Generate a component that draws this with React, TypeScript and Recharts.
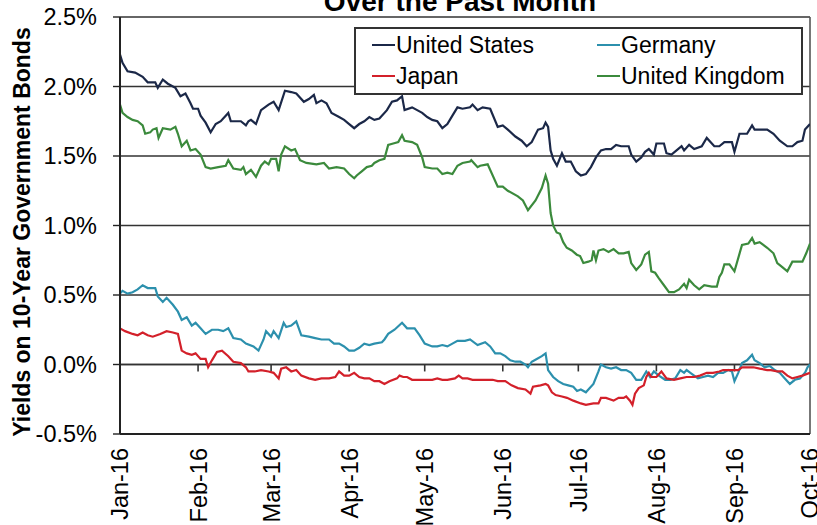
import React from 'react';
import { LineChart, Line, XAxis, YAxis, CartesianGrid, ReferenceLine } from 'recharts';

// day index from 1-Jan-2016, yield in %
const US: [number, number][] = [
  [0,2.23],[1,2.17],[3,2.11],[6,2.10],[9,2.07],[11,2.03],[14,2.03],[15,1.99],[17,2.05],[19,2.02],[22,1.99],[24,1.93],[26,1.95],[28,1.88],[29,1.84],[31,1.84],[32,1.79],[34,1.74],[36,1.67],[38,1.73],[40,1.75],[43,1.81],[44,1.75],[48,1.75],[50,1.72],[51,1.75],[52,1.76],[54,1.73],[56,1.83],[59,1.87],[61,1.89],[63,1.83],[65.5,1.97],[68,1.96],[70,1.95],[73,1.89],[75,1.91],[77,1.94],[78,1.88],[80,1.90],[82,1.88],[84,1.81],[87,1.78],[89,1.76],[91,1.73],[93,1.70],[95,1.73],[97,1.75],[99,1.78],[101,1.76],[103,1.77],[106,1.83],[108,1.89],[110,1.90],[112,1.93],[113,1.83],[116,1.85],[118,1.83],[120,1.81],[122,1.78],[124,1.76],[126,1.75],[128,1.70],[130,1.73],[132,1.79],[134,1.85],[136,1.84],[139,1.85],[140,1.87],[142,1.83],[144,1.85],[147,1.84],[150,1.71],[152,1.72],[154,1.69],[157,1.64],[159.5,1.61],[161.5,1.57],[163.5,1.60],[166,1.69],[168,1.70],[169,1.74],[170,1.71],[171,1.54],[172,1.48],[173.5,1.43],[175.5,1.52],[177,1.46],[179,1.46],[181,1.39],[183,1.36],[185,1.37],[187,1.42],[189,1.49],[191,1.54],[193,1.55],[195,1.55],[197,1.58],[199,1.57],[202,1.57],[203,1.51],[205,1.46],[207,1.49],[208.5,1.53],[210,1.55],[212,1.51],[213,1.59],[216,1.59],[217,1.52],[219,1.51],[221,1.54],[223,1.57],[224,1.54],[226,1.58],[228,1.55],[231,1.57],[233,1.63],[236,1.57],[238,1.57],[240,1.60],[243,1.60],[244,1.53],[246,1.66],[249,1.66],[251,1.72],[252,1.69],[257,1.69],[259.5,1.66],[262,1.61],[265,1.57],[267,1.57],[269,1.60],[271,1.61],[272,1.69],[274,1.73],
];

const UK: [number, number][] = [
  [0,1.87],[1,1.81],[3,1.78],[5,1.76],[7,1.75],[9,1.72],[10,1.66],[12,1.67],[13,1.69],[14.5,1.70],[15.3,1.63],[17,1.70],[20,1.69],[22,1.71],[23,1.66],[24.5,1.57],[26.5,1.61],[28,1.54],[30,1.55],[32,1.51],[34,1.42],[36,1.41],[39,1.42],[42,1.43],[43,1.47],[45,1.41],[48,1.40],[49,1.42],[50,1.37],[52,1.40],[54,1.35],[56,1.43],[57.5,1.46],[59,1.44],[60,1.48],[62,1.48],[63,1.39],[64,1.51],[65.5,1.57],[68,1.54],[69.5,1.55],[71.5,1.47],[74,1.45],[78,1.44],[81,1.45],[83,1.41],[86,1.42],[89,1.41],[91,1.37],[93,1.34],[94,1.36],[96,1.39],[98,1.42],[100,1.43],[101,1.45],[103,1.47],[105,1.48],[106.5,1.58],[108.5,1.59],[110.5,1.60],[112,1.65],[113,1.61],[116,1.60],[118,1.58],[120,1.49],[121,1.42],[124,1.41],[126,1.41],[128,1.37],[130,1.38],[132,1.37],[134,1.43],[136,1.45],[139,1.46],[139.5,1.47],[142,1.42],[143,1.43],[146,1.44],[150,1.28],[152,1.28],[154,1.25],[158,1.21],[160,1.18],[162,1.11],[165,1.18],[167.5,1.27],[169,1.36],[170,1.30],[171,1.09],[172,1.00],[173.4,0.95],[174.7,0.94],[176,0.88],[177.4,0.84],[179.4,0.82],[181.4,0.79],[182.7,0.78],[184,0.73],[186,0.74],[187.3,0.75],[188,0.82],[189,0.75],[190,0.82],[192,0.83],[194,0.81],[196,0.83],[198,0.80],[200,0.80],[202,0.81],[203,0.73],[205,0.68],[207,0.72],[208.5,0.79],[210,0.81],[211,0.67],[212.5,0.66],[214,0.62],[216,0.57],[218,0.52],[220,0.52],[222,0.54],[224,0.58],[225,0.55],[226,0.61],[228,0.57],[230,0.54],[232,0.57],[235,0.56],[237,0.56],[238,0.63],[239,0.66],[240,0.72],[242,0.72],[244,0.67],[247,0.86],[249.5,0.87],[251,0.91],[252,0.87],[254,0.88],[257,0.84],[259.5,0.80],[261,0.73],[263,0.70],[265,0.67],[267,0.74],[269,0.74],[271,0.74],[272.5,0.80],[274,0.87],
];

const GERMANY: [number, number][] = [
  [0,0.51],[1,0.53],[3,0.51],[5,0.52],[7,0.54],[9,0.57],[11,0.55],[14,0.55],[15,0.49],[17,0.45],[18.5,0.48],[21,0.43],[23,0.38],[24.5,0.32],[26.5,0.34],[28.5,0.28],[30,0.30],[32,0.26],[34,0.22],[36.5,0.25],[39,0.25],[41,0.24],[43,0.26],[45,0.19],[48,0.18],[50,0.15],[53,0.13],[55,0.10],[57,0.18],[58,0.24],[60,0.20],[61,0.24],[63,0.19],[65,0.30],[66,0.27],[68,0.28],[70,0.31],[72,0.21],[75,0.20],[77.5,0.19],[80,0.18],[83,0.18],[85,0.15],[87,0.15],[89,0.13],[91,0.10],[93,0.10],[95,0.12],[97,0.15],[99,0.14],[101,0.15],[104,0.16],[105,0.18],[106.5,0.22],[109,0.25],[112,0.30],[114,0.26],[117,0.26],[119,0.21],[121,0.15],[124,0.13],[126,0.13],[128,0.14],[130,0.13],[132,0.15],[134,0.17],[137,0.17],[139,0.18],[142,0.14],[145,0.16],[147,0.13],[149,0.08],[151,0.08],[153,0.06],[155,0.03],[157,0.02],[159,0.02],[161,0.00],[162,-0.02],[163.5,0.02],[165.5,0.04],[167.5,0.06],[169,0.08],[170,-0.04],[172,-0.09],[174,-0.12],[176,-0.14],[178,-0.15],[180,-0.16],[181.5,-0.19],[183,-0.18],[185,-0.20],[186,-0.18],[188,-0.14],[190,-0.05],[191,0.00],[193,-0.02],[195,-0.03],[197,-0.02],[199,-0.04],[201,-0.04],[203,-0.06],[205,-0.11],[207,-0.11],[209,-0.05],[210.5,-0.09],[212,-0.05],[214,-0.08],[216.5,-0.11],[218.5,-0.11],[220.5,-0.10],[222.5,-0.04],[224,-0.06],[225,-0.04],[226.5,-0.06],[228,-0.08],[229.5,-0.10],[231.5,-0.09],[233.5,-0.08],[235.5,-0.09],[237.5,-0.06],[239.5,-0.06],[241.5,-0.04],[243,-0.05],[244,-0.12],[245.5,-0.06],[247,0.01],[249,0.03],[251,0.07],[252,0.03],[254,0.01],[256,-0.02],[258,-0.01],[260,-0.04],[262,-0.06],[264,-0.10],[266,-0.14],[268,-0.11],[270,-0.10],[272,-0.06],[273,-0.02],[274,0.00],
];

const JAPAN: [number, number][] = [
  [0,0.26],[2,0.24],[5,0.22],[7,0.21],[9,0.23],[11,0.21],[13,0.20],[16,0.22],[18.5,0.24],[21,0.23],[23,0.22],[24.5,0.10],[26.5,0.08],[28.5,0.07],[30,0.08],[32,0.04],[34,0.04],[35,-0.02],[36.5,0.03],[38.5,0.09],[40.5,0.10],[43,0.06],[45,0.02],[48,0.01],[50,-0.02],[51,-0.05],[53.5,-0.05],[56,-0.04],[59,-0.05],[61,-0.06],[63,-0.10],[64,-0.03],[66,-0.02],[68,-0.05],[70,-0.04],[72,-0.08],[75,-0.10],[77.5,-0.11],[80,-0.10],[83,-0.10],[85.5,-0.09],[87,-0.05],[89,-0.08],[91,-0.08],[93,-0.06],[95,-0.09],[97,-0.10],[99,-0.10],[101,-0.12],[103,-0.12],[105,-0.14],[107,-0.12],[110,-0.10],[111,-0.08],[112.5,-0.09],[114,-0.09],[116,-0.11],[118.5,-0.11],[121,-0.11],[124,-0.11],[126,-0.10],[128,-0.11],[130,-0.11],[133,-0.10],[134.5,-0.08],[136,-0.10],[138,-0.10],[140,-0.11],[143,-0.11],[145.5,-0.11],[148,-0.11],[150,-0.12],[153,-0.12],[155.5,-0.15],[158,-0.17],[161,-0.18],[163,-0.21],[164,-0.16],[167,-0.15],[169,-0.14],[170,-0.15],[171.5,-0.20],[173,-0.22],[175.5,-0.23],[177.5,-0.24],[180,-0.26],[183,-0.28],[185,-0.29],[188,-0.28],[190,-0.28],[191,-0.24],[193,-0.24],[194.5,-0.25],[196,-0.26],[198,-0.24],[200,-0.24],[201,-0.23],[202.5,-0.26],[203.5,-0.29],[204.5,-0.21],[206,-0.17],[208,-0.15],[209,-0.09],[210,-0.06],[211,-0.09],[213,-0.09],[215,-0.05],[217,-0.10],[220,-0.11],[222.5,-0.10],[225,-0.09],[228,-0.09],[230.3,-0.08],[233,-0.06],[235.5,-0.06],[238,-0.05],[239.5,-0.04],[241.5,-0.04],[243.5,-0.04],[245.5,-0.04],[247,-0.02],[249,-0.02],[251.5,-0.02],[254,-0.03],[257,-0.04],[258.5,-0.04],[261,-0.05],[263,-0.05],[265,-0.08],[267,-0.10],[269,-0.09],[271,-0.08],[274,-0.06],
];

const SERIES_NAMES = ['United States', 'Germany', 'Japan', 'United Kingdom'];
const SERIES_COLORS = ['#1b2848', '#2c90ad', '#d3202a', '#3b8a3c'];
const MONTH_TICKS = [0, 31, 60, 91, 121, 152, 182, 213, 244, 274];
const MONTH_LABELS = ['Jan-16', 'Feb-16', 'Mar-16', 'Apr-16', 'May-16', 'Jun-16', 'Jul-16', 'Aug-16', 'Sep-16', 'Oct-16'];
const Y_TICKS = [-0.5, 0, 0.5, 1, 1.5, 2, 2.5];
const TITLE = 'Over the Past Month';
const Y_TITLE = 'Yields on 10-Year Government Bonds';

const toRows = (pts: [number, number][]) => pts.map(([d, v]) => ({ d, v }));

const FONT = 'Arial, "Liberation Sans", sans-serif';

const XTick = (props: any) => {
  const { x, y, payload } = props;
  const idx = MONTH_TICKS.indexOf(payload.value);
  return (
    <g transform={`translate(${x},${y + 6})`}>
      <text transform="rotate(-90)" textAnchor="end" dy="0.36em" fontSize={23.5} fontFamily={FONT} fill="#000">
        {MONTH_LABELS[idx]}
      </text>
    </g>
  );
};

export default function App() {
  const seriesData = [US, GERMANY, JAPAN, UK];
  const legendPos = [
    { left: 16, top: 3 },
    { left: 241, top: 3 },
    { left: 16, top: 34 },
    { left: 241, top: 34 },
  ];
  return (
    <div style={{ position: 'absolute', left: 0, top: 0, width: 817, height: 525, fontFamily: FONT, background: '#fff', overflow: 'hidden' }}>
      <LineChart width={817} height={525} margin={{ top: 17, right: 7, left: 0, bottom: 0 }}>
        <CartesianGrid horizontal vertical={false} stroke="#333" strokeWidth={1.4} />
        <XAxis
          dataKey="d"
          type="number"
          domain={[0, 274]}
          ticks={MONTH_TICKS}
          interval={0}
          height={91}
          axisLine={{ stroke: '#222', strokeWidth: 2 }}
          tickLine={false}
          tick={<XTick />}
          allowDataOverflow
        />
        <YAxis
          type="number"
          domain={[-0.5, 2.5]}
          ticks={Y_TICKS}
          interval={0}
          width={120}
          axisLine={{ stroke: '#222', strokeWidth: 2 }}
          tickLine={{ stroke: '#222', strokeWidth: 1.4 }}
          tickSize={7}
          tickMargin={16}
          tick={{ fontSize: 23.5, fill: '#000', fontFamily: FONT }}
          tickFormatter={(v: number) => `${v.toFixed(1)}%`}
          allowDataOverflow
        />
        <ReferenceLine x={274} stroke="#555" strokeWidth={1.6} />
        <ReferenceLine y={0} stroke="#333" strokeWidth={1.6} />
        {MONTH_TICKS.slice(1, -1).map((t) => (
          <ReferenceLine key={t} segment={[{ x: t, y: 0 }, { x: t, y: -0.05 }]} stroke="#333" strokeWidth={1.6} />
        ))}
        {seriesData.map((pts, i) => (
          <Line
            key={SERIES_NAMES[i]}
            data={toRows(pts)}
            dataKey="v"
            type="linear"
            stroke={SERIES_COLORS[i]}
            strokeWidth={2.2}
            dot={false}
            activeDot={false}
            isAnimationActive={false}
          />
        ))}
      </LineChart>
      <div
        style={{
          position: 'absolute',
          left: 354,
          top: 27,
          width: 449,
          height: 68,
          boxSizing: 'border-box',
          border: '2px solid #333',
          background: '#fff',
        }}
      >
        {SERIES_NAMES.map((name, i) => (
          <div
            key={name}
            style={{
              position: 'absolute',
              left: legendPos[i].left,
              top: legendPos[i].top,
              height: 26,
              display: 'flex',
              alignItems: 'center',
              fontSize: 23,
              lineHeight: '26px',
              color: '#000',
              whiteSpace: 'nowrap',
            }}
          >
            <span style={{ display: 'inline-block', width: 23, height: 2, background: SERIES_COLORS[i], marginRight: 1 }} />
            {name}
          </div>
        ))}
      </div>
      <svg width={817} height={525} style={{ position: 'absolute', left: 0, top: 0, pointerEvents: 'none' }}>
        <text x={460} y={11} textAnchor="middle" fontSize={28} fontWeight="bold" fontFamily={FONT} fill="#000">
          {TITLE}
        </text>
        <text
          transform="translate(22,232) rotate(-90)"
          textAnchor="middle"
          dominantBaseline="central"
          fontSize={23}
          fontWeight="bold"
          fontFamily={FONT}
          fill="#000"
        >
          {Y_TITLE}
        </text>
      </svg>
    </div>
  );
}
